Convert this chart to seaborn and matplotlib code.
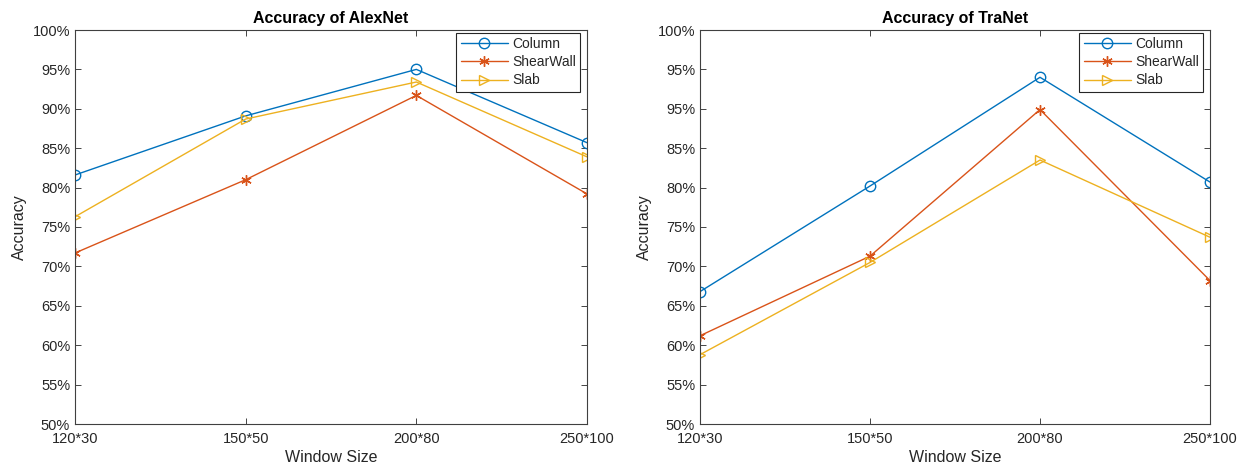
import matplotlib
matplotlib.use("Agg")
import matplotlib.pyplot as plt
import pandas as pd
import seaborn as sns

# Window sizes on the x axis
window_sizes = ["120*30", "150*50", "200*80", "250*100"]

# Accuracy (%) per structural element
alexnet_column = [81.6, 89.1, 95.0, 85.7]
alexnet_shearwall = [71.7, 81.0, 91.7, 79.2]
alexnet_slab = [76.3, 88.7, 93.4, 83.9]

tranet_column = [66.8, 80.2, 94.0, 80.7]
tranet_shearwall = [61.2, 71.3, 89.9, 68.2]
tranet_slab = [58.8, 70.5, 83.5, 73.7]

y_ticks = [50, 55, 60, 65, 70, 75, 80, 85, 90, 95, 100]
alexnet_ytick_labels = ["50%", "55%", "60%", "65%", "70%", "75%", "80%", "85%", "90%", "95%", "100%"]
tranet_ytick_labels = ["50%", "55%", "60%", "65%", "70%", "75%", "80%", "85%", "95%", "95%", "100%"]

series_names = ["Column", "ShearWall", "Slab"]
palette = {"Column": "#0072BD", "ShearWall": "#D95319", "Slab": "#EDB120"}
markers = {"Column": "o", "ShearWall": (6, 2, 0), "Slab": ">"}

sns.set_theme(style="white")
plt.rcParams["font.family"] = ["Liberation Sans", "DejaVu Sans"]
text_color = "#262626"


def long_table(col, sw, slab):
    rows = []
    for name, vals in zip(series_names, [col, sw, slab]):
        for ws, v in zip(window_sizes, vals):
            rows.append({"Window Size": ws, "Accuracy": v, "Element": name})
    return pd.DataFrame(rows)


def draw_panel(ax, df, title, ytick_labels, ax_w, ax_h):
    for name in series_names:
        sub = df[df["Element"] == name]
        sns.lineplot(
            data=sub, x="Window Size", y="Accuracy", ax=ax,
            color=palette[name], marker=markers[name], markersize=7.5,
            markerfacecolor="none", markeredgecolor=palette[name],
            markeredgewidth=1.0, linewidth=1.0, label=name, sort=False,
        )
    ax.set_xlim(0, len(window_sizes) - 1)
    ax.set_ylim(50, 100)
    ax.set_xticks(range(len(window_sizes)))
    ax.set_xticklabels(window_sizes)
    ax.set_yticks(y_ticks)
    ax.set_yticklabels(ytick_labels)
    ax.tick_params(direction="in", length=4, width=0.6, colors=text_color,
                   labelsize=10.5, top=True, right=True, bottom=True, left=True,
                   labelcolor=text_color)
    ax.tick_params(axis="x", pad=6)
    for s in ax.spines.values():
        s.set_visible(True)
        s.set_color("#404040")
        s.set_linewidth(0.8)
    ax.set_xlabel("Window Size", fontsize=11.5, color=text_color, labelpad=3)
    ax.set_ylabel("Accuracy", fontsize=11.5, color=text_color, labelpad=4)
    ax.set_title(title, fontsize=11.5, fontweight="bold", color="black", pad=5)
    leg = ax.legend(loc="upper right", bbox_to_anchor=(1 - 7 / ax_w, 1 - 3 / ax_h),
                    fontsize=10, frameon=True, fancybox=False,
                    framealpha=1, edgecolor="#262626", borderpad=0.3,
                    handlelength=3.4, handletextpad=0.3, labelspacing=0.3,
                    borderaxespad=0.0)
    leg.get_frame().set_linewidth(0.8)


fig = plt.figure(figsize=(12.37, 4.74), dpi=100)
ax1 = fig.add_axes([75 / 1237, 50 / 474, 512 / 1237, 394 / 474])
ax2 = fig.add_axes([700 / 1237, 50 / 474, 510 / 1237, 394 / 474])

draw_panel(ax1, long_table(alexnet_column, alexnet_shearwall, alexnet_slab),
           "Accuracy of AlexNet", alexnet_ytick_labels, 512, 394)
draw_panel(ax2, long_table(tranet_column, tranet_shearwall, tranet_slab),
           "Accuracy of TraNet", tranet_ytick_labels, 510, 394)

fig.savefig("out.png", dpi=100, facecolor="white")
